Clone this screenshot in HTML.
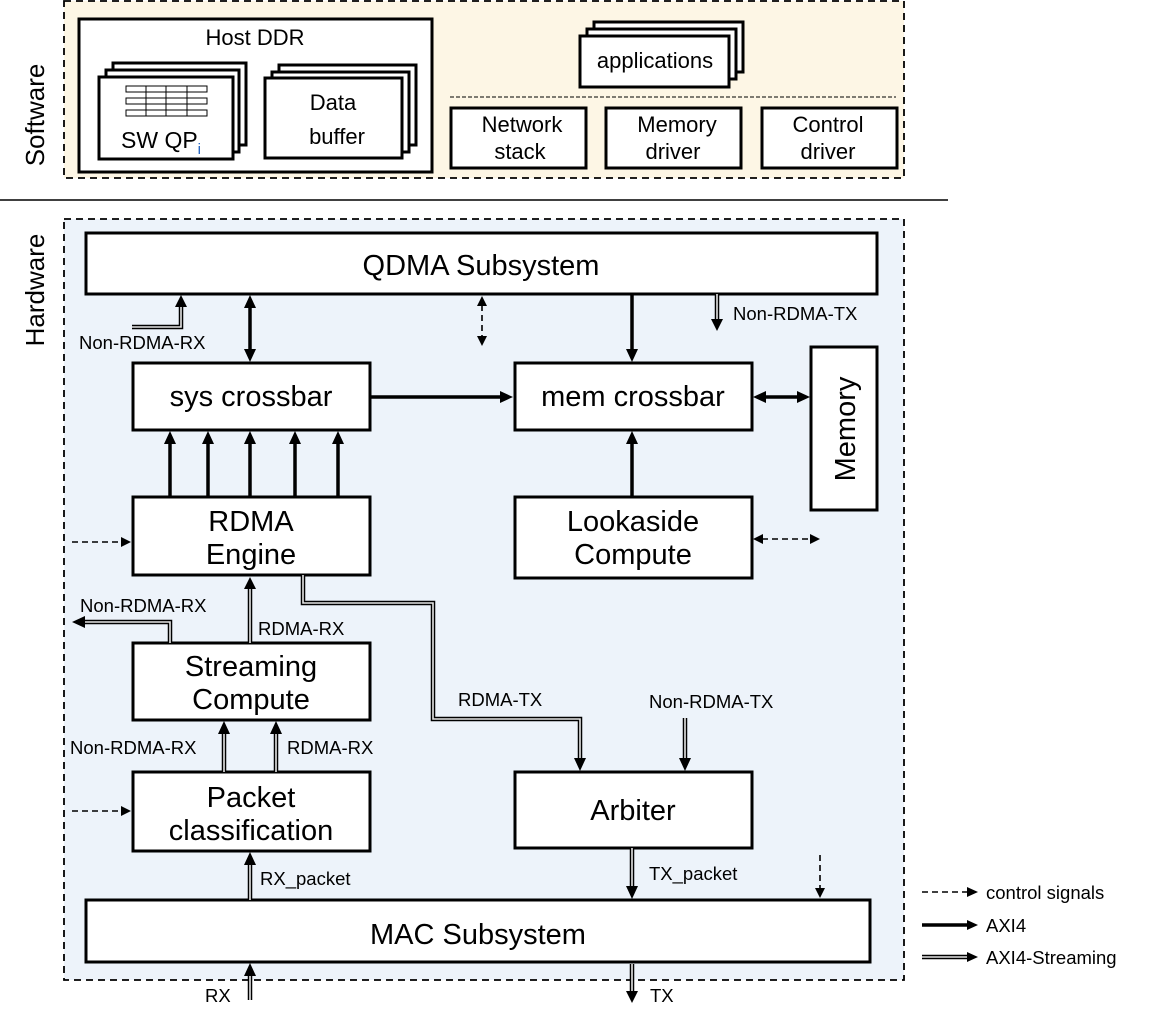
<!DOCTYPE html>
<html><head><meta charset="utf-8"><style>
html,body{margin:0;padding:0;background:#fff;}
svg{display:block;font-family:"Liberation Sans",sans-serif;}
.b{fill:#fff;stroke:#000;stroke-width:3;}
.big{font-size:29px;text-anchor:middle;}
.md{font-size:22px;text-anchor:middle;}
.sm{font-size:18.5px;}
.dbl{fill:none;stroke:#000;stroke-width:4.5;}
.dblw{fill:none;stroke:#e6e6e6;stroke-width:1.6;}
.thk{stroke:#000;stroke-width:3.5;fill:none;}
.dsh{stroke:#000;stroke-width:1.6;stroke-dasharray:6 4;fill:none;}
</style></head><body>
<svg width="1162" height="1026" viewBox="0 0 1162 1026" xmlns="http://www.w3.org/2000/svg">
<rect x="64" y="1" width="840" height="177" fill="#fdf6e5" stroke="#000" stroke-width="1.8" stroke-dasharray="7 5"/>
<line x1="0" y1="200" x2="948" y2="200" stroke="#000" stroke-width="1.5"/>
<rect x="64" y="219" width="840" height="761" fill="#edf3fa" stroke="#000" stroke-width="1.8" stroke-dasharray="7 5"/>
<text transform="translate(44,115) rotate(-90)" font-size="26" text-anchor="middle">Software</text>
<text transform="translate(44,290) rotate(-90)" font-size="26" text-anchor="middle">Hardware</text>

<rect class="b" x="79" y="19" width="353" height="153"/>
<text x="255" y="45" class="md">Host DDR</text>
<rect class="b" x="113" y="63" width="133" height="82"/>
<rect class="b" x="106" y="70" width="133" height="82"/>
<rect class="b" x="99" y="77" width="134" height="82"/>
<g fill="#fff" stroke="#000" stroke-width="1">
<rect x="126" y="86" width="81" height="6"/><rect x="126" y="98" width="81" height="6"/><rect x="126" y="110" width="81" height="6"/>
</g>
<g stroke="#000" stroke-width="1"><line x1="146" y1="86" x2="146" y2="116"/><line x1="166" y1="86" x2="166" y2="116"/><line x1="187" y1="86" x2="187" y2="116"/></g>
<text x="121" y="148" font-size="23">SW QP<tspan font-size="15" dy="6" fill="#2060c0">i</tspan></text>
<rect class="b" x="279" y="65" width="137" height="80"/>
<rect class="b" x="272" y="72" width="137" height="80"/>
<rect class="b" x="265" y="78" width="137" height="80"/>
<text x="333" y="110" class="md" font-size="23">Data</text>
<text x="337" y="144" class="md" font-size="23">buffer</text>

<rect class="b" x="594" y="22" width="149" height="50"/>
<rect class="b" x="587" y="29" width="149" height="50"/>
<rect class="b" x="580" y="36" width="149" height="51"/>
<text x="655" y="68" class="md">applications</text>
<line x1="450" y1="97" x2="896" y2="97" stroke="#000" stroke-width="1" stroke-dasharray="4 2"/>
<rect class="b" x="451" y="108" width="135" height="60"/>
<text x="522" y="132" class="md">Network</text><text x="520" y="159" class="md">stack</text>
<rect class="b" x="606" y="108" width="135" height="60"/>
<text x="677" y="132" class="md">Memory</text><text x="673" y="159" class="md">driver</text>
<rect class="b" x="762" y="108" width="135" height="60"/>
<text x="828" y="132" class="md">Control</text><text x="828" y="159" class="md">driver</text>

<rect class="b" x="86" y="233" width="791" height="61"/>
<text x="481" y="275" class="big">QDMA Subsystem</text>
<rect class="b" x="133" y="363" width="237" height="67"/>
<text x="251" y="406" class="big">sys crossbar</text>
<rect class="b" x="515" y="363" width="237" height="67"/>
<text x="633" y="406" class="big">mem crossbar</text>
<rect class="b" x="811" y="347" width="66" height="163"/>
<text transform="translate(855,429) rotate(-90)" class="big">Memory</text>
<rect class="b" x="133" y="497" width="237" height="78"/>
<text x="251" y="531" class="big">RDMA</text><text x="251" y="564" class="big">Engine</text>
<rect class="b" x="515" y="497" width="237" height="81"/>
<text x="633" y="531" class="big">Lookaside</text><text x="633" y="564" class="big">Compute</text>
<rect class="b" x="133" y="643" width="237" height="77"/>
<text x="251" y="676" class="big">Streaming</text><text x="251" y="709" class="big">Compute</text>
<rect class="b" x="133" y="772" width="237" height="79"/>
<text x="251" y="807" class="big">Packet</text><text x="251" y="840" class="big">classification</text>
<rect class="b" x="515" y="772" width="237" height="76"/>
<text x="633" y="820" class="big">Arbiter</text>
<rect class="b" x="86" y="900" width="784" height="62"/>
<text x="478" y="944" class="big">MAC Subsystem</text>

<line class="thk" x1="250" y1="306" x2="250" y2="351"/>
<polygon points="250,295 244,308 256,308"/><polygon points="250,362 244,349 256,349"/>
<line class="thk" x1="632" y1="294" x2="632" y2="352"/><polygon points="632,362 626,349 638,349"/>
<line class="thk" x1="370" y1="397" x2="502" y2="397"/><polygon points="513,397 500,391 500,403"/>
<line class="thk" x1="764" y1="397" x2="800" y2="397"/>
<polygon points="753,397 766,391 766,403"/><polygon points="810,397 797,391 797,403"/>
<g>
<line class="thk" x1="170" y1="497" x2="170" y2="442"/><polygon points="170,431 164,444 176,444"/>
<line class="thk" x1="208" y1="497" x2="208" y2="442"/><polygon points="208,431 202,444 214,444"/>
<line class="thk" x1="250" y1="497" x2="250" y2="442"/><polygon points="250,431 244,444 256,444"/>
<line class="thk" x1="295" y1="497" x2="295" y2="442"/><polygon points="295,431 289,444 301,444"/>
<line class="thk" x1="338" y1="497" x2="338" y2="442"/><polygon points="338,431 332,444 344,444"/>
<line class="thk" x1="632" y1="497" x2="632" y2="442"/><polygon points="632,431 626,444 638,444"/>
</g>

<line class="dsh" x1="482" y1="305" x2="482" y2="337"/>
<polygon points="482,296 477,306 487,306"/><polygon points="482,346 477,336 487,336"/>
<line class="dsh" x1="72" y1="542" x2="122" y2="542"/><polygon points="131,542 121,537 121,547"/>
<line class="dsh" x1="762" y1="539" x2="811" y2="539"/>
<polygon points="753,539 763,534 763,544"/><polygon points="820,539 810,534 810,544"/>
<line class="dsh" x1="72" y1="811" x2="122" y2="811"/><polygon points="131,811 121,806 121,816"/>
<line class="dsh" x1="820" y1="855" x2="820" y2="889"/><polygon points="820,898 815,888 825,888"/>

<g>
<path class="dbl" d="M132,327 H181 V306"/><path class="dblw" d="M132,327 H181 V306"/><polygon points="181,295 175,307 187,307"/>
<path class="dbl" d="M717,294 V320"/><path class="dblw" d="M717,294 V320"/><polygon points="717,331 711,319 723,319"/>
<path class="dbl" d="M250,643 V588"/><path class="dblw" d="M250,643 V588"/><polygon points="250,577 244,589 256,589"/>
<path class="dbl" d="M170,643 V622 H84"/><path class="dblw" d="M170,643 V622 H84"/><polygon points="72,622 85,616 85,628"/>
<path class="dbl" d="M303,575 V603 H433 V719 H580 V759"/><path class="dblw" d="M303,575 V603 H433 V719 H580 V759"/><polygon points="580,771 574,758 586,758"/>
<path class="dbl" d="M685,718 V759"/><path class="dblw" d="M685,718 V759"/><polygon points="685,771 679,758 691,758"/>
<path class="dbl" d="M224,772 V733"/><path class="dblw" d="M224,772 V733"/><polygon points="224,721 218,734 230,734"/>
<path class="dbl" d="M276,772 V733"/><path class="dblw" d="M276,772 V733"/><polygon points="276,721 270,734 282,734"/>
<path class="dbl" d="M250,900 V864"/><path class="dblw" d="M250,900 V864"/><polygon points="250,852 244,865 256,865"/>
<path class="dbl" d="M632,848 V887"/><path class="dblw" d="M632,848 V887"/><polygon points="632,899 626,886 638,886"/>
<path class="dbl" d="M250,1000 V975"/><path class="dblw" d="M250,1000 V975"/><polygon points="250,963 244,976 256,976"/>
<path class="dbl" d="M632,964 V992"/><path class="dblw" d="M632,964 V992"/><polygon points="632,1003 626,991 638,991"/>
</g>

<text x="79" y="349" class="sm">Non-RDMA-RX</text>
<text x="733" y="320" class="sm">Non-RDMA-TX</text>
<text x="80" y="612" class="sm">Non-RDMA-RX</text>
<text x="258" y="635" class="sm">RDMA-RX</text>
<text x="458" y="706" class="sm">RDMA-TX</text>
<text x="649" y="708" class="sm">Non-RDMA-TX</text>
<text x="70" y="754" class="sm">Non-RDMA-RX</text>
<text x="287" y="754" class="sm">RDMA-RX</text>
<text x="260" y="885" class="sm">RX_packet</text>
<text x="649" y="880" class="sm">TX_packet</text>
<text x="205" y="1002" class="sm">RX</text>
<text x="650" y="1002" class="sm">TX</text>

<line class="dsh" x1="922" y1="892" x2="968" y2="892"/><polygon points="978,892 967,887 967,897"/>
<text x="986" y="899" class="sm">control signals</text>
<line class="thk" x1="922" y1="925" x2="968" y2="925"/><polygon points="978,925 967,920 967,930"/>
<text x="986" y="932" class="sm">AXI4</text>
<path class="dbl" d="M922,957 H968"/><path class="dblw" d="M922,957 H968"/><polygon points="978,957 967,952 967,962"/>
<text x="986" y="964" class="sm">AXI4-Streaming</text>
</svg>
</body></html>
